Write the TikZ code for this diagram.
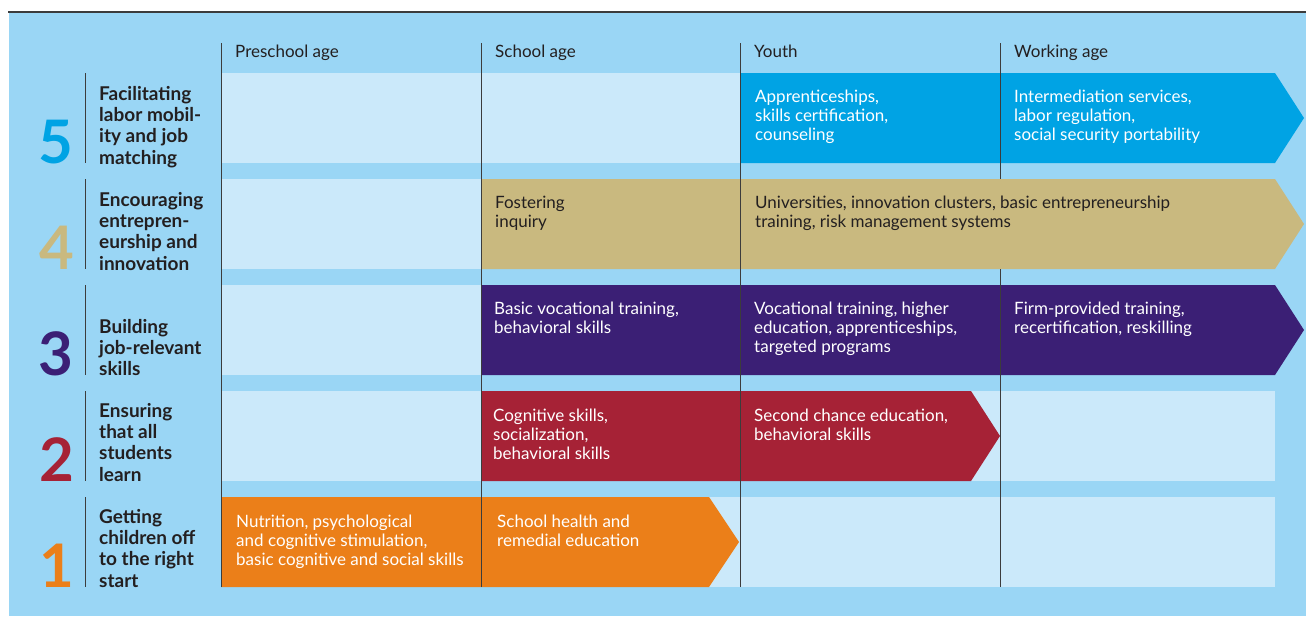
\documentclass[tikz,border=0pt]{standalone}
\usepackage{fontspec}
\setmainfont{Lato}
\definecolor{panel}{HTML}{9AD6F5}
\definecolor{cellc}{HTML}{CBE9FA}
\definecolor{cblue}{HTML}{00A3E4}
\definecolor{ctan}{HTML}{C9B97F}
\definecolor{cpurple}{HTML}{3B1F75}
\definecolor{cred}{HTML}{A62236}
\definecolor{corange}{HTML}{EB7F19}
\definecolor{ink}{HTML}{231F20}
\definecolor{linec}{HTML}{3C3C3C}
\begin{document}
\begin{tikzpicture}[x=1pt,y=-1pt,
  celltext/.style={anchor=north west,inner sep=0pt,align=left,font=\fontsize{17}{19}\selectfont,text=white},
  head/.style={anchor=north west,inner sep=0pt,font=\fontsize{17}{19}\selectfont,text=ink},
  lab/.style={anchor=north west,inner sep=0pt,align=left,font=\fontsize{19}{21.3}\selectfont\bfseries,text=ink},
  num/.style={anchor=base,inner sep=0pt,font=\fontsize{60}{60}\selectfont\bfseries},
  colline/.style={draw=linec,line width=1pt},
  labline/.style={draw=linec,line width=1pt},
]
\useasboundingbox (0,0) rectangle (1306,616);
\fill[white] (0,0) rectangle (1306,616);
\fill[panel] (9,12) rectangle (1306,616);
\draw[line width=1.6pt,draw=linec] (8,12) -- (1306,12);

% light cells
\foreach \t in {73,179,285,391,497}{
  \fill[cellc] (221,\t) rectangle (1275,\t+90);
}
% arrows
\fill[cblue] (740,73) -- (1275,73) -- (1304,118) -- (1275,163) -- (740,163) -- cycle;
\fill[ctan] (481,179) -- (1275,179) -- (1304,224) -- (1275,269) -- (481,269) -- cycle;
\fill[cpurple] (481,285) -- (1275,285) -- (1304,330) -- (1275,375) -- (481,375) -- cycle;
\fill[cred] (481,391) -- (971,391) -- (1000,436) -- (971,481) -- (481,481) -- cycle;
\fill[corange] (221,497) -- (709,497) -- (739,542) -- (709,587) -- (221,587) -- cycle;

% column lines
\draw[colline] (221,43) -- (221,587);
\draw[colline] (481,43) -- (481,587);
\draw[colline] (740,43) -- (740,587);
\draw[colline] (1000,43) -- (1000,179);
\draw[colline] (1000,269) -- (1000,587);

% headers
\node[head] (h1) at (235,45) {Preschool age};
\node[head] (h2) at (495,45) {School age};
\node[head] (h3) at (754,45) {Youth};
\node[head] (h4) at (1014,45) {Working age};

% cell texts
\node[celltext] (c53) at (755,90) {Apprenticeships,\\skills certification,\\counseling};
\node[celltext] (c54) at (1014,90) {Intermediation services,\\labor regulation,\\social security portability};
\node[celltext,text=ink] (c42) at (495,196) {Fostering\\inquiry};
\node[celltext,text=ink] (c43) at (755,196) {Universities, innovation clusters, basic entrepreneurship\\training, risk management systems};
\node[celltext] (c32) at (494,302) {Basic vocational training,\\behavioral skills};
\node[celltext] (c33) at (754,302) {Vocational training, higher\\education, apprenticeships,\\targeted programs};
\node[celltext] (c34) at (1014,302) {Firm-provided training,\\recertification, reskilling};
\node[celltext] (c22) at (493,409) {Cognitive skills,\\socialization,\\behavioral skills};
\node[celltext] (c23) at (754,409) {Second chance education,\\behavioral skills};
\node[celltext] (c11) at (236,515) {Nutrition, psychological\\and cognitive stimulation,\\basic cognitive and social skills};
\node[celltext] (c12) at (497,515) {School health and\\remedial education};

% row labels
\foreach \t in {73,179,285,391,497}{
  \draw[labline] (85,\t) -- (85,\t+90);
}
\node[lab] (l5) at (99,86) {Facilitating\\labor mobil-\\ity and job\\matching};
\node[lab] (l4) at (99,192) {Encouraging\\entrepren-\\eurship and\\innovation};
\node[lab] (l3) at (99,319) {Building\\job-relevant\\skills};
\node[lab] (l2) at (99,403) {Ensuring\\that all\\students\\learn};
\node[lab] (l1) at (99,509) {Getting\\children off\\to the right\\start};

% numbers
\node[num,text=cblue] (n5) at (56,163) {5};
\node[num,text=ctan] (n4) at (57,269) {4};
\node[num,text=cpurple] (n3) at (56,375) {3};
\node[num,text=cred] (n2) at (57,481) {2};
\node[num,text=corange] (n1) at (57,587) {1};
\end{tikzpicture}
\end{document}
